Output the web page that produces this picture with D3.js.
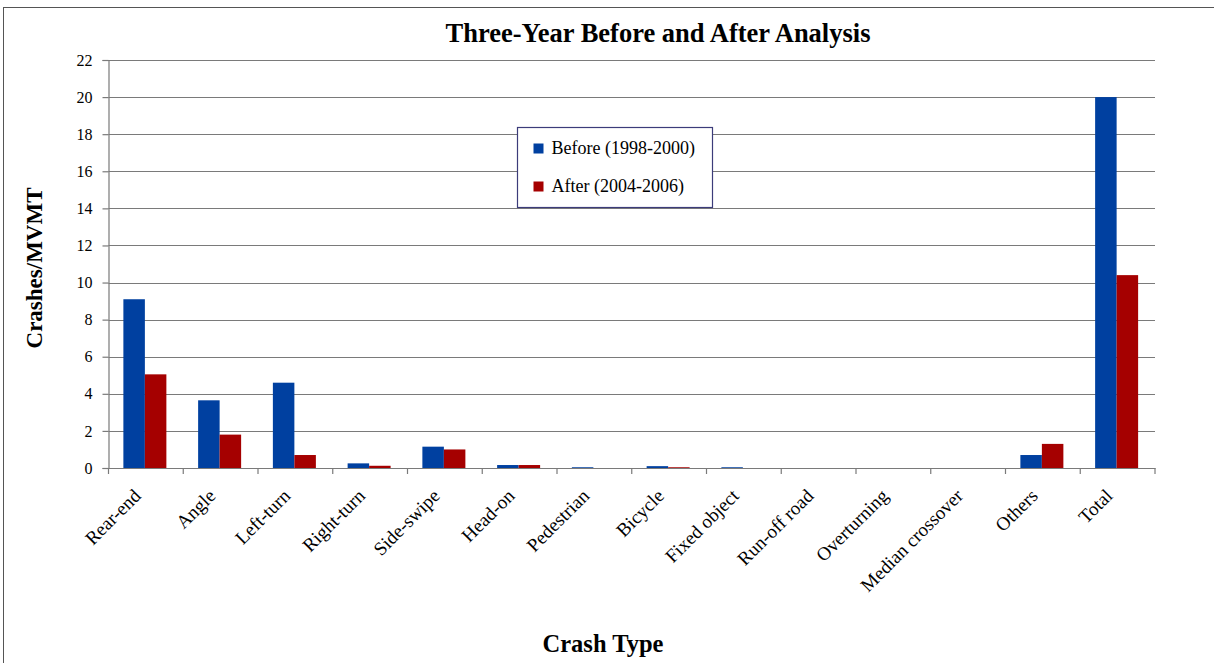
<!DOCTYPE html>
<html>
<head>
<meta charset="utf-8">
<script src="https://cdn.jsdelivr.net/npm/d3@7/dist/d3.min.js"></script>
<style>
  html, body { margin: 0; padding: 0; background: #fff; }
  svg { display: block; }
  text { font-family: "Liberation Serif", "Times New Roman", serif; fill: #000; }
</style>
</head>
<body>
<svg id="chart" width="1214" height="663"></svg>
<script>
// Crash rates (crashes per MVMT) by crash type, before and after treatment
const categories = ["Rear-end", "Angle", "Left-turn", "Right-turn", "Side-swipe", "Head-on",
  "Pedestrian", "Bicycle", "Fixed object", "Run-off road", "Overturning",
  "Median crossover", "Others", "Total"];
const beforeValues = [9.1, 3.65, 4.6, 0.25, 1.15, 0.16, 0.04, 0.1, 0.04, 0, 0, 0, 0.7, 20.0];
const afterValues  = [5.05, 1.8, 0.7, 0.12, 1.0, 0.16, 0, 0.04, 0, 0, 0, 0, 1.3, 10.4];
const seriesNames = ["Before (1998-2000)", "After (2004-2006)"];
const seriesColors = ["#0040a0", "#a50000"];
const yTicks = [0, 2, 4, 6, 8, 10, 12, 14, 16, 18, 20, 22];

const svg = d3.select("#chart");
const plot = { left: 108.5, right: 1155, top: 60, bottom: 468 };

// Outer frame
svg.append("rect")
  .attr("x", 3.5).attr("y", 7.5)
  .attr("width", 1216).attr("height", 700)
  .attr("fill", "none").attr("stroke", "#555").attr("stroke-width", 1);

const x = d3.scaleBand().domain(categories).range([plot.left, plot.right]).padding(0);
const barW = 21.5;
const xs = d3.scaleBand().domain([0, 1]).range([-barW, barW]).padding(0);
const y = d3.scaleLinear().domain([0, 22]).range([plot.bottom, plot.top]);

// Horizontal gridlines
svg.append("g")
  .selectAll("line").data(yTicks.filter(d => d > 0)).join("line")
  .attr("x1", plot.left).attr("x2", plot.right)
  .attr("y1", d => Math.round(y(d)) + 0.5).attr("y2", d => Math.round(y(d)) + 0.5)
  .attr("stroke", "#7a7a7a").attr("stroke-width", 1.2);

// Bars
const rows = categories.map((c, i) => ({ c, vals: [beforeValues[i], afterValues[i]] }));
const groups = svg.append("g").selectAll("g").data(rows).join("g")
  .attr("transform", d => `translate(${x(d.c) + x.bandwidth() / 2 - 1},0)`);
groups.selectAll("rect").data(d => d.vals.map((v, k) => ({ v, k }))).join("rect")
  .attr("x", d => xs(d.k))
  .attr("width", xs.bandwidth())
  .attr("y", d => y(d.v))
  .attr("height", d => y(0) - y(d.v))
  .attr("fill", d => seriesColors[d.k]);

// Y axis
const yAxis = d3.axisLeft(y).tickValues(yTicks).tickSize(6).tickPadding(10);
const gy = svg.append("g")
  .attr("transform", `translate(${plot.left},0)`)
  .call(yAxis);
gy.attr("font-family", null).attr("font-size", null);
gy.select(".domain").attr("stroke", "#7a7a7a").attr("stroke-width", 1.2);
gy.selectAll(".tick line").attr("stroke", "#7a7a7a").attr("stroke-width", 1.2);
gy.selectAll(".tick text")
  .attr("font-size", 16).attr("fill", "#000");

// X axis: ticks at category boundaries
const xAxis = d3.axisBottom(x).tickSize(0).tickFormat("");
const gx = svg.append("g")
  .attr("transform", `translate(0,${plot.bottom})`)
  .call(xAxis);
gx.select(".domain").attr("stroke", "#7a7a7a").attr("stroke-width", 1.2);
gx.selectAll(".tick").remove();
const boundaries = categories.map(c => x(c)).concat([plot.right]);
gx.selectAll("line.sep").data(boundaries).join("line")
  .attr("class", "sep")
  .attr("x1", d => d).attr("x2", d => d)
  .attr("y1", 0).attr("y2", 6)
  .attr("stroke", "#7a7a7a").attr("stroke-width", 1.2);

// Rotated category labels
svg.append("g").selectAll("text").data(categories).join("text")
  .attr("transform", d => `translate(${x(d) + x.bandwidth() / 2 - 4},497) rotate(-45)`)
  .attr("text-anchor", "end")
  .attr("font-size", 19)
  .text(d => d);

// Title and axis titles
svg.append("text")
  .attr("x", 658).attr("y", 42)
  .attr("text-anchor", "middle")
  .attr("font-size", 26.5).attr("font-weight", "bold")
  .text("Three-Year Before and After Analysis");

svg.append("text")
  .attr("transform", "translate(42,268) rotate(-90)")
  .attr("text-anchor", "middle")
  .attr("font-size", 23).attr("font-weight", "bold")
  .text("Crashes/MVMT");

svg.append("text")
  .attr("x", 603).attr("y", 652)
  .attr("text-anchor", "middle")
  .attr("font-size", 24.5).attr("font-weight", "bold")
  .text("Crash Type");

// Legend
const legend = svg.append("g").attr("transform", "translate(517.5,127.5)");
legend.append("rect")
  .attr("width", 195).attr("height", 80)
  .attr("fill", "#fff").attr("stroke", "#3c3c7a").attr("stroke-width", 1.2);
const items = legend.selectAll("g.item").data(seriesNames).join("g")
  .attr("class", "item")
  .attr("transform", (d, i) => `translate(16,${16 + i * 38})`);
items.append("rect")
  .attr("width", 10).attr("height", 10)
  .attr("fill", (d, i) => seriesColors[i]);
items.append("text")
  .attr("x", 18).attr("y", 10.5)
  .attr("font-size", 18)
  .text(d => d);
</script>
</body>
</html>
